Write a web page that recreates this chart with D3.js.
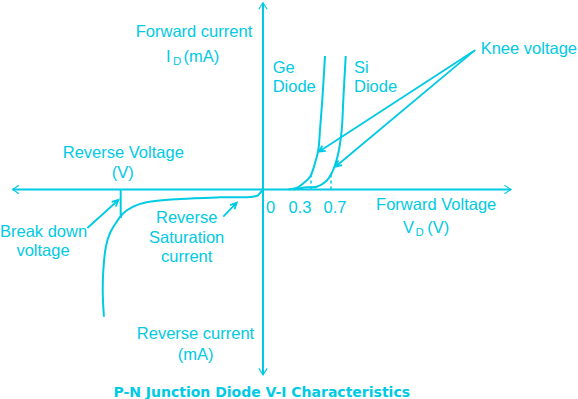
<!DOCTYPE html>
<head>
<style>
    body { margin: 0; background: #fff; }
    svg text { font-family: "Liberation Sans", Arial, Helvetica, sans-serif; font-size: 16.5px; fill: #00cae4; }
    .title { font-family: "DejaVu Sans", sans-serif; font-size: 14px; font-weight: bold; }
    .axis { stroke: #00cae4; stroke-width: 2; fill: none; }
    .curve { stroke: #00cae4; stroke-width: 2; fill: none; }
    .pointer { stroke: #00cae4; stroke-width: 1.8; fill: none; }
</style>
</head>
<body>
<script src="https://d3js.org/d3.v7.min.js"></script>
<script>
// characteristic curves, [volts, mA] (schematic, not to scale)
var geCurve = [[0.16, 0], [0.21, 0.35], [0.252, 1.39], [0.294, 2.87], [0.38, 5.87],
               [0.446, 8.84], [0.48, 13.3], [0.526, 20.0], [0.58, 29.9]];
var siCurve = [[0.19, 0], [0.273, 0.49], [0.414, 0.63], [0.614, 1.97], [0.714, 3.63],
               [0.78, 5.48], [0.846, 8.1], [0.914, 13.3], [0.946, 20.0], [0.994, 29.9]];
var reverseCurve = [[0, 0], [-0.7, -0.56], [-1.75, -1.3], [-3.5, -1.6], [-15.1, -1.75],
                    [-29.2, -2.13], [-40.9, -2.87], [-45.6, -3.85], [-49.1, -5.33],
                    [-51.4, -7.21], [-53.8, -9.8], [-55.2, -12.8], [-56.1, -18.0],
                    [-56.3, -23.2], [-55.9, -28.5]];

var kneeVoltages = [0.3, 0.7];
var kneeCurrents = [3.0, 3.4];
var tickLabels = ["0", "0.3", "0.7"];
var breakdownVoltage = -50;
var breakdownCurrent = -6.4;

var xExtent = [-88, 4.3];
var yExtent = [-41.5, 41.8];

// annotation pointers [from, to] in [volts, mA]
var kneePointers = [[[3.58, 31.2], [0.456, 8.46]], [[3.58, 31.2], [0.788, 5.1]]];
var breakdownPointer = [[-61.7, -8.62], [-50.8, -2.35]];
var saturationPointer = [[-13.95, -6.09], [-9.24, -2.95]];

var width = 578, height = 399;
var color = "#00cae4";

var svg = d3.select("body").append("svg")
    .attr("width", width)
    .attr("height", height);

// piecewise scale: reverse and forward sides are drawn at different scales
var x = d3.scaleLinear()
    .domain([-50, 0, 0.3, 0.7])
    .range([120.7, 263, 311, 331]);
var y = d3.scaleLinear()
    .domain([0, 30])
    .range([189.5, 55.5]);

var x0 = x(0), y0 = y(0);

// axes with open arrowheads
var g = svg.append("g").attr("class", "axis");
g.append("line").attr("x1", x(xExtent[0])).attr("x2", x(xExtent[1])).attr("y1", y0).attr("y2", y0);
g.append("line").attr("x1", x0).attr("x2", x0).attr("y1", y(yExtent[1])).attr("y2", y(yExtent[0]));

function chevron(tx, ty, dx, dy) {
    // dx,dy = unit direction the arrow points
    var back = 6.5, half = 4.2;
    var bx = tx - dx * back, by = ty - dy * back;
    svg.append("path")
        .attr("d", "M" + (bx - dy * half) + "," + (by + dx * half) + "L" + tx + "," + ty +
                   "L" + (bx + dy * half) + "," + (by - dx * half))
        .attr("fill", "none").attr("stroke", color).attr("stroke-width", 1.1);
}
chevron(x(xExtent[0]), y0, -1, 0);
chevron(x(xExtent[1]), y0, 1, 0);
chevron(x0, y(yExtent[1]), 0, -1);
chevron(x0, y(yExtent[0]), 0, 1);

var line = d3.line()
    .x(function(d) { return x(d[0]); })
    .y(function(d) { return y(d[1]); })
    .curve(d3.curveCatmullRom.alpha(0.5));

[geCurve, siCurve, reverseCurve].forEach(function(c) {
    svg.append("path").attr("class", "curve").attr("d", line(c));
});

// knee voltage markers
svg.selectAll(".knee")
    .data(kneeVoltages)
    .enter().append("line")
    .attr("class", "knee")
    .attr("x1", function(d) { return x(d); })
    .attr("x2", function(d) { return x(d); })
    .attr("y1", y0)
    .attr("y2", function(d, i) { return y(kneeCurrents[i]); })
    .attr("stroke", color)
    .attr("stroke-width", 1.5)
    .attr("stroke-dasharray", "3,3");

// breakdown marker
svg.append("line")
    .attr("x1", x(breakdownVoltage)).attr("x2", x(breakdownVoltage))
    .attr("y1", y0).attr("y2", y(breakdownCurrent))
    .attr("stroke", color).attr("stroke-width", 2);

function pointer(p) {
    var ax = x(p[0][0]), ay = y(p[0][1]), bx = x(p[1][0]), by = y(p[1][1]);
    var ang = Math.atan2(by - ay, bx - ax), L = 7, w = 0.45;
    svg.append("path").attr("class", "pointer")
        .attr("d", "M" + ax + "," + ay + "L" + bx + "," + by +
            "M" + (bx - L * Math.cos(ang - w)) + "," + (by - L * Math.sin(ang - w)) +
            "L" + bx + "," + by +
            "L" + (bx - L * Math.cos(ang + w)) + "," + (by - L * Math.sin(ang + w)));
}
kneePointers.forEach(pointer);
pointer(breakdownPointer);
pointer(saturationPointer);

// tick labels
var tickX = [266, 288.5, 323.5];
svg.selectAll(".tick")
    .data(tickLabels)
    .enter().append("text")
    .attr("x", function(d, i) { return tickX[i]; })
    .attr("y", 213)
    .text(function(d) { return d; });

function label(lines, cx, cy, anchor) {
    lines.forEach(function(t, i) {
        svg.append("text")
            .attr("x", cx).attr("y", cy + i * 19.5)
            .attr("text-anchor", anchor || "middle")
            .text(t);
    });
}
label(["Forward current"], 194, 36.7);
label(["Ge", "Diode"], 272.7, 72.7, "start");
label(["Si", "Diode"], 354, 72.7, "start");
label(["Knee voltage"], 480.7, 54.3, "start");
label(["Reverse Voltage"], 123.3, 158.3);
label(["(V)"], 122.7, 178.3);
label(["Forward Voltage"], 436.2, 210);
label(["Break down"], 0, 236.7, "start");
label(["voltage"], 43, 255.7);
label(["Reverse", "Saturation", "current"], 186.7, 223.3);
label(["Reverse current"], 195.5, 339.3);
label(["(mA)"], 195.7, 359.8);

// labels with subscripts
var id = svg.append("text").attr("x", 166).attr("y", 61.7);
id.append("tspan").text("I");
id.append("tspan").attr("dx", 2.5).attr("dy", 3).style("font-size", "11.5px").text("D");
id.append("tspan").attr("dx", 2).attr("dy", -3).text("(mA)");

var vd = svg.append("text").attr("x", 403).attr("y", 232.7);
vd.append("tspan").text("V");
vd.append("tspan").attr("dx", 1.5).attr("dy", 3).style("font-size", "11.5px").text("D");
vd.append("tspan").attr("dx", 3.5).attr("dy", -3).text("(V)");

svg.append("text")
    .attr("class", "title")
    .attr("x", 261.7).attr("y", 397.3)
    .attr("text-anchor", "middle")
    .text("P-N Junction Diode V-I Characteristics");
</script>
</body>
